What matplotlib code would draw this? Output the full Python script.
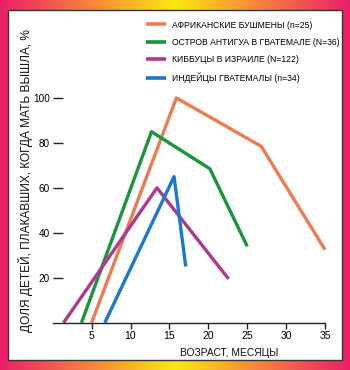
import numpy as np
import matplotlib
matplotlib.use("Agg")
import matplotlib.pyplot as plt
from matplotlib.patches import Rectangle
from matplotlib.colors import LinearSegmentedColormap

plt.rcParams['font.family'] = ['Liberation Sans', 'DejaVu Sans']

# Data
bushmen_x = [5.0, 15.9, 26.8, 35.0]
bushmen_y = [0, 100, 78.5, 32.5]
antigua_x = [3.7, 12.7, 20.2, 25.0]
antigua_y = [0, 85, 68.5, 34]
kibbutz_x = [1.4, 13.4, 22.6]
kibbutz_y = [0, 60, 19.5]
indians_x = [6.7, 15.6, 17.1]
indians_y = [0, 65, 25]

labels = ["АФРИКАНСКИЕ БУШМЕНЫ (n=25)",
          "ОСТРОВ АНТИГУА В ГВАТЕМАЛЕ (N=36)",
          "КИББУЦЫ В ИЗРАИЛЕ (N=122)",
          "ИНДЕЙЦЫ ГВАТЕМАЛЫ (n=34)"]
colors = ["#f07a50", "#17963a", "#b0388c", "#1a78d2"]
xticks = [5, 10, 15, 20, 25, 30, 35]
yticks = [20, 40, 60, 80, 100]

W, H = 350, 370
fig = plt.figure(figsize=(W / 100, H / 100), dpi=100)

# Background frame with gradient
bg = fig.add_axes([0, 0, 1, 1])
bg.set_axis_off()
cmap = LinearSegmentedColormap.from_list(
    "frame", [(0.0, "#fbe80f"), (0.45, "#f98a3a"), (1.0, "#ea1f68")])
xs = np.abs(np.linspace(-1, 1, W))
img = np.tile(cmap(xs)[:, :3], (H, 1, 1))
pink = np.array(matplotlib.colors.to_rgb("#ea1f68"))
yy = np.arange(H)
mid = (yy > 14) & (yy < H - 14)
img[mid] = pink
bg.imshow(img, extent=[0, W, H, 0], aspect='auto')
bg.set_xlim(0, W)
bg.set_ylim(H, 0)
bg.add_patch(Rectangle((8, 10), 334, 350, facecolor='white',
                       edgecolor='#333333', linewidth=1.0))

# Main axes
ax = fig.add_axes([52.7 / W, (H - 322.7) / H, 272.3 / W, 247.2 / H])
ax.patch.set_alpha(0)
ax.set_xlim(0, 35)
ax.set_ylim(0, 110)

series = [(bushmen_x, bushmen_y), (antigua_x, antigua_y),
          (kibbutz_x, kibbutz_y), (indians_x, indians_y)]
for (x, y), c, lab in zip(series, colors, labels):
    ax.plot(x, y, color=c, lw=2.4, label=lab, solid_capstyle='butt', clip_on=False)

for s in ['top', 'right', 'left']:
    ax.spines[s].set_visible(False)
ax.spines['bottom'].set_color('#222222')
ax.spines['bottom'].set_linewidth(1.0)
ax.set_xticks(xticks)
ax.set_xticklabels([str(t) for t in xticks])
ax.set_yticks(yticks)
ax.set_yticklabels([str(t) for t in yticks])
ax.tick_params(axis='x', direction='out', length=4, width=1.0, color='#222222',
               labelsize=7.5, pad=2)
ax.tick_params(axis='y', direction='in', length=7, width=1.0, color='#222222',
               labelsize=7.2, pad=2)

leg = ax.legend(loc='upper left', bbox_to_anchor=(146 / W, 1 - 20.5 / H),
                bbox_transform=fig.transFigure, frameon=False, fontsize=6.2,
                handlelength=2.33, handletextpad=0.7, labelspacing=0.98,
                borderaxespad=0, borderpad=0)
for line in leg.get_lines():
    line.set_linewidth(2.6)

fig.text(229 / W, 1 - 353 / H, "ВОЗРАСТ, МЕСЯЦЫ", ha='center', va='center',
         fontsize=7.4, color='#111111')
fig.text(26 / W, 1 - 181 / H, "ДОЛЯ ДЕТЕЙ, ПЛАКАВШИХ, КОГДА МАТЬ ВЫШЛА, %",
         ha='center', va='center', rotation=90, fontsize=8.6, color='#111111')

fig.savefig("out.png", dpi=100)
